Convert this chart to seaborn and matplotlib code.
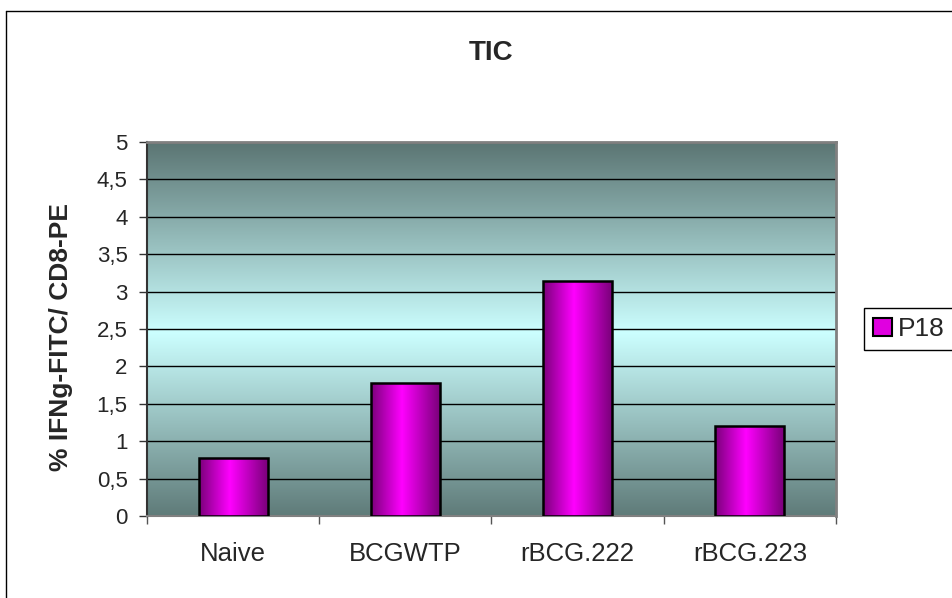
import numpy as np
import pandas as pd
import matplotlib
matplotlib.use("Agg")
import matplotlib.pyplot as plt
import seaborn as sns
from matplotlib.colors import LinearSegmentedColormap
from matplotlib.patches import Patch
from matplotlib.lines import Line2D

# Data
groups = ["Naive", "BCGWTP", "rBCG.222", "rBCG.223"]
p18 = [0.77, 1.78, 3.14, 1.20]
series_name = "P18"
y_ticks = [0, 0.5, 1, 1.5, 2, 2.5, 3, 3.5, 4, 4.5, 5]
y_tick_labels = ["0", "0,5", "1", "1,5", "2", "2,5", "3", "3,5", "4", "4,5", "5"]
title = "TIC"
y_label = "% IFNg-FITC/ CD8-PE"

sns.set_theme(style="white")
plt.rcParams["font.family"] = ["Liberation Sans", "DejaVu Sans"]

W, H = 953, 598
fig = plt.figure(figsize=(W / 100, H / 100), dpi=100)
fig.patch.set_facecolor("white")
ax = fig.add_axes([147 / W, 1 - 516 / H, (836 - 147) / W, (516 - 142) / H])

df = pd.DataFrame({"group": groups, "value": p18})
sns.barplot(data=df, x="group", y="value", color="#e000e0", width=0.4,
            edgecolor="black", linewidth=1.8, saturation=1, ax=ax, zorder=3)

# Vertical teal gradient behind the plot
bg_cmap = LinearSegmentedColormap.from_list(
    "bg", [(0.0, "#5f7b79"), (0.49, "#ccffff"), (1.0, "#5b7573")])
grad = np.linspace(0, 1, 256).reshape(-1, 1)
ax.imshow(grad, extent=(-0.5, 3.5, 0, 5), origin="lower", aspect="auto",
          cmap=bg_cmap, zorder=0, interpolation="bilinear")

# Cylinder-like horizontal shading on each bar
bar_cmap = LinearSegmentedColormap.from_list(
    "bar", [(0.0, "#7a007a"), (0.45, "#ff00ff"), (1.0, "#7a007a")])
hgrad = np.linspace(0, 1, 256).reshape(1, -1)
for patch in list(ax.patches):
    x0, y0 = patch.get_x(), patch.get_y()
    w, h = patch.get_width(), patch.get_height()
    im = ax.imshow(hgrad, extent=(x0, x0 + w, y0, y0 + h), aspect="auto",
                   cmap=bar_cmap, zorder=3, interpolation="bilinear")
    im.set_clip_path(patch)
    patch.set_facecolor("none")
    patch.set_zorder(4)

ax.set_xlim(-0.5, 3.5)
ax.set_ylim(0, 5)

# Grid
ax.set_axisbelow(True)
ax.yaxis.grid(True, color="black", linewidth=1.0)
ax.xaxis.grid(False)

# Axes, ticks
ax.set_yticks(y_ticks)
ax.set_yticklabels(y_tick_labels, fontsize=16)
ax.set_xticks(np.arange(-0.5, 4.0, 1.0))
ax.set_xticklabels([""] * 5)
ax.set_xticks(range(len(groups)), minor=True)
ax.set_xticklabels(groups, minor=True, fontsize=18.5)
ax.tick_params(axis="y", which="major", direction="out", length=6, width=1,
               color="#333333", pad=8, left=True)
ax.tick_params(axis="x", which="major", direction="out", length=6, width=1,
               color="#555555", bottom=True)
ax.tick_params(axis="x", which="minor", length=0, pad=19)
ax.set_xlabel("")
ax.set_ylabel("")

for side in ["top", "right"]:
    ax.spines[side].set_color("#808080")
    ax.spines[side].set_linewidth(2)
ax.spines["left"].set_color("#333333")
ax.spines["left"].set_linewidth(1.5)
ax.spines["bottom"].set_color("#808080")
ax.spines["bottom"].set_linewidth(1.5)

# Titles
fig.text(491 / W, 1 - 53 / H, title, ha="center", va="center",
         fontsize=20, fontweight="bold")
fig.text(61 / W, 1 - 337 / H, y_label, ha="center", va="center",
         rotation=90, fontsize=19, fontweight="bold")

# Legend
leg = fig.legend(handles=[Patch(facecolor="#e000e0", edgecolor="black", linewidth=1.5)],
                 labels=[series_name], loc="center left",
                 bbox_to_anchor=(864 / W, 1 - 329 / H), frameon=True,
                 fancybox=False, edgecolor="black", framealpha=1,
                 fontsize=19, handlelength=0.7, handleheight=0.7,
                 handletextpad=0.22, borderpad=0.35, borderaxespad=0)
leg.get_frame().set_linewidth(1)

# Chart-area border
fig.add_artist(Line2D([6 / W, 6 / W], [0, 1 - 11 / H], transform=fig.transFigure,
                      color="black", linewidth=1))
fig.add_artist(Line2D([6 / W, 1], [1 - 11 / H, 1 - 11 / H], transform=fig.transFigure,
                      color="black", linewidth=1))

fig.savefig("out.png", dpi=100, facecolor="white")
